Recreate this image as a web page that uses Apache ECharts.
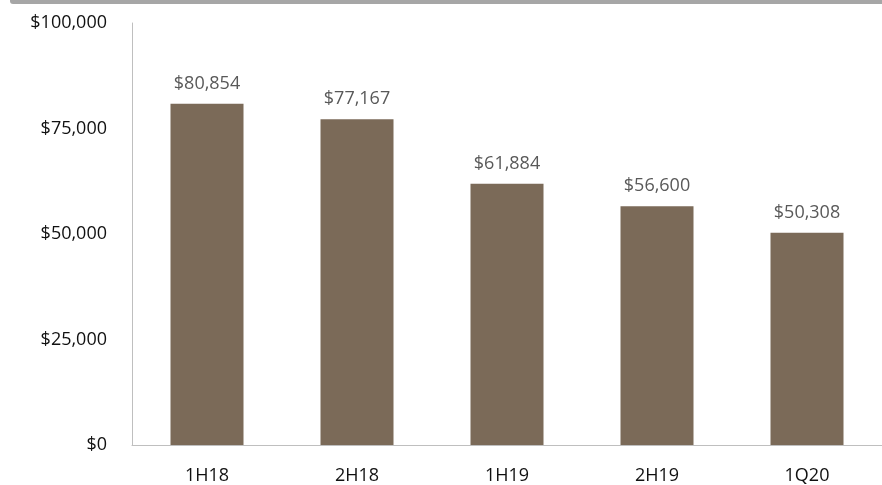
<!DOCTYPE html>
<html lang="en">
<head>
    <meta charset="UTF-8">
    <title>Half-year values</title>
    <style>
        html, body { margin: 0; padding: 0; background: #fff; }
        #chart { width: 882px; height: 485px; }
    </style>
</head>
<body>
    <div id="chart"></div>
    <script src="https://cdn.jsdelivr.net/npm/echarts@6/dist/echarts.min.js"></script>
    <script>
        var categories = ['1H18', '2H18', '1H19', '2H19', '1Q20'];
        var values = [80854, 77167, 61884, 56600, 50308];
        var yTicks = [0, 25000, 50000, 75000, 100000];

        // $ with thousands separator
        function money(v) {
            return '$' + String(v).replace(/\B(?=(\d{3})+(?!\d))/g, ',');
        }

        var chart = echarts.init(document.getElementById('chart'));
        chart.setOption({
            animation: false,
            textStyle: { fontFamily: 'Open Sans' },
            graphic: [{
                type: 'rect',
                shape: { x: 10, y: -6, width: 900, height: 10, r: 3 },
                style: { fill: '#a6a6a6' }
            }],
            grid: { left: 132, top: 23, width: 755, height: 423 },
            xAxis: {
                type: 'category',
                data: categories,
                axisLine: { lineStyle: { color: '#bfbfbf' } },
                axisTick: { length: 7, lineStyle: { color: '#bfbfbf' } },
                axisLabel: { color: '#111', fontSize: 18, margin: 22 }
            },
            yAxis: {
                type: 'value',
                min: yTicks[0],
                max: yTicks[yTicks.length - 1],
                interval: 25000,
                splitLine: { show: false },
                axisLine: { show: true, lineStyle: { color: '#bfbfbf' } },
                axisTick: { show: false },
                axisLabel: { color: '#111', fontSize: 18, margin: 25, formatter: money }
            },
            series: [{
                type: 'bar',
                data: values,
                barWidth: 73,
                itemStyle: { color: '#7b6a58' },
                label: {
                    show: true,
                    position: 'top',
                    distance: 11,
                    color: '#595959',
                    fontSize: 18,
                    formatter: function (p) { return money(p.value); }
                }
            }]
        });
    </script>
</body>
</html>
